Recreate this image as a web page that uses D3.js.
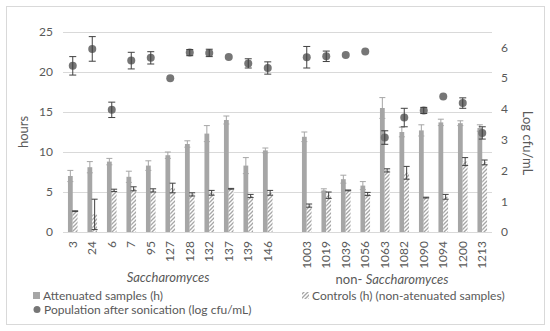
<!DOCTYPE html>
<html>
<head>
<meta charset="utf-8">
<script src="https://cdn.jsdelivr.net/npm/d3@7"></script>
<style>
body { margin: 0; background: #fff; }
text { font-family: Lato, "Open Sans", sans-serif; fill: #595959; }
</style>
</head>
<body>
<div id="chart"></div>
<script>
var svgWidth = 550
var svgHeight = 331

// strains, the empty slot separates the two groups
var saccharomyces = ["3", "24", "6", "7", "95", "127", "128", "132", "137", "139", "146"]
var nonSaccharomyces = ["1003", "1019", "1039", "1056", "1063", "1082", "1090", "1094", "1200", "1213"]
var strains = saccharomyces.concat(nonSaccharomyces)

var attenuated = [7.0, 8.1, 8.8, 6.9, 8.3, 9.6, 11.0, 12.3, 14.0, 8.3, 10.2, 11.9, 5.2, 6.6, 5.8, 15.5, 12.5, 12.7, 13.7, 13.6, 13.0]
var attenuatedErr = [0.7, 0.7, 0.4, 0.7, 0.6, 0.4, 0.4, 1.0, 0.5, 1.0, 0.3, 0.6, 0.2, 0.5, 0.5, 1.3, 0.6, 0.7, 0.4, 0.3, 0.4]
var controls = [2.6, 2.2, 5.2, 5.4, 5.2, 5.5, 4.7, 4.9, 5.4, 4.5, 4.9, 3.3, 4.6, 5.2, 4.75, 7.7, 7.4, 4.3, 4.4, 8.8, 8.7]
var controlsErr = [0.05, 1.9, 0.15, 0.25, 0.2, 0.6, 0.2, 0.3, 0.05, 0.2, 0.3, 0.2, 0.4, 0.05, 0.2, 0.2, 0.8, 0.05, 0.3, 0.5, 0.3]
var population = [5.4, 5.95, 3.97, 5.57, 5.66, 5.0, 5.83, 5.82, 5.69, 5.48, 5.33, 5.68, 5.71, 5.75, 5.87, 3.07, 3.72, 3.95, 4.4, 4.19, 3.22]
var populationErr = [0.3, 0.4, 0.25, 0.27, 0.2, 0, 0.1, 0.12, 0, 0.15, 0.2, 0.35, 0.17, 0, 0, 0.22, 0.3, 0.1, 0, 0.17, 0.2]

var hoursTicks = [0, 5, 10, 15, 20, 25]
var logTicks = [0, 1, 2, 3, 4, 5, 6]

var svg = d3.select("#chart").append("svg").attr("width", svgWidth).attr("height", svgHeight)

var defs = svg.append("defs")
var pattern = defs.append("pattern")
    .attr("id", "hatch")
    .attr("patternUnits", "userSpaceOnUse")
    .attr("width", 4).attr("height", 4)
pattern.append("rect").attr("width", 4).attr("height", 4).attr("fill", "#fff")
pattern.append("path").attr("d", "M-1,1 l2,-2 M0,4 l4,-4 M3,5 l2,-2")
    .attr("stroke", "#a6a6a6").attr("stroke-width", 1.3)

// outer border
svg.append("rect").attr("x", 6.5).attr("y", 6.5).attr("width", 538).attr("height", 318)
    .attr("fill", "none").attr("stroke", "#d9d9d9")

var plot = { left: 63, right: 492, top: 32, bottom: 232 }

var slots = saccharomyces.concat(["gap"], nonSaccharomyces)
var xScale = d3.scaleBand().domain(slots).range([plot.left, plot.right])
var yScale = d3.scaleLinear().domain([0, 25]).range([plot.bottom, plot.top])
var y2Scale = d3.scaleLinear().domain([0, 6.5]).range([plot.bottom, plot.top])

var rows = strains.map(function (s, i) {
    return {
        strain: s,
        att: attenuated[i], attErr: attenuatedErr[i],
        ctl: controls[i], ctlErr: controlsErr[i],
        pop: population[i], popErr: populationErr[i]
    }
})

// gridlines
svg.selectAll(".grid").data(hoursTicks).enter().append("line")
    .attr("x1", plot.left).attr("x2", plot.right)
    .attr("y1", d => Math.round(yScale(d)) + 0.5).attr("y2", d => Math.round(yScale(d)) + 0.5)
    .attr("stroke", "#d9d9d9").attr("stroke-width", 1)

var leftAxis = d3.axisLeft(yScale).tickValues(hoursTicks).tickSize(0).tickPadding(10)
var gl = svg.append("g").attr("transform", `translate(${plot.left}, 0)`).call(leftAxis)
gl.select(".domain").remove()
gl.selectAll("text").attr("font-size", "12px").style("font-family", "Lato, sans-serif").attr("fill", "#595959")

var rightAxis = d3.axisRight(y2Scale).tickValues(logTicks).tickFormat(d3.format("d")).tickSize(0).tickPadding(9)
var gr = svg.append("g").attr("transform", `translate(${plot.right}, 0)`).call(rightAxis)
gr.select(".domain").remove()
gr.selectAll("text").attr("font-size", "12px").style("font-family", "Lato, sans-serif").attr("fill", "#595959")

var bottomAxis = d3.axisBottom(xScale).tickSize(0).tickFormat(d => d == "gap" ? "" : d)
var gb = svg.append("g").attr("transform", `translate(0, ${plot.bottom})`).call(bottomAxis)
gb.select(".domain").remove()
gb.selectAll("text")
    .attr("transform", "rotate(-90)")
    .attr("x", -9).attr("y", 0).attr("dy", "0.35em")
    .attr("text-anchor", "end")
    .attr("font-size", "12px").style("font-family", "Lato, sans-serif").attr("fill", "#595959")

var barW = 4.8
var cx = d => xScale(d.strain) + xScale.bandwidth() / 2

// attenuated bars
svg.selectAll(".att").data(rows).enter().append("rect")
    .attr("x", d => cx(d) - barW)
    .attr("y", d => yScale(d.att))
    .attr("width", barW)
    .attr("height", d => plot.bottom - yScale(d.att))
    .attr("fill", "#a6a6a6")

// control bars
svg.selectAll(".ctl").data(rows).enter().append("rect")
    .attr("x", d => cx(d))
    .attr("y", d => yScale(d.ctl))
    .attr("width", barW)
    .attr("height", d => plot.bottom - yScale(d.ctl))
    .attr("fill", "url(#hatch)")

function errorBars(cls, xf, yf, ef, sc, color, capW) {
    var g = svg.selectAll("." + cls).data(rows.filter(d => ef(d) > 0)).enter().append("g")
    g.append("line")
        .attr("x1", d => xf(d)).attr("x2", d => xf(d))
        .attr("y1", d => sc(yf(d) - ef(d))).attr("y2", d => sc(yf(d) + ef(d)))
        .attr("stroke", color).attr("stroke-width", 1)
    g.append("line")
        .attr("x1", d => xf(d) - capW).attr("x2", d => xf(d) + capW)
        .attr("y1", d => sc(yf(d) + ef(d))).attr("y2", d => sc(yf(d) + ef(d)))
        .attr("stroke", color).attr("stroke-width", 1)
    g.append("line")
        .attr("x1", d => xf(d) - capW).attr("x2", d => xf(d) + capW)
        .attr("y1", d => sc(yf(d) - ef(d))).attr("y2", d => sc(yf(d) - ef(d)))
        .attr("stroke", color).attr("stroke-width", 1)
}

errorBars("attErr", d => cx(d) - barW / 2, d => d.att, d => d.attErr, yScale, "#a6a6a6", 3)
errorBars("ctlErr", d => cx(d) + barW / 2, d => d.ctl, d => d.ctlErr, yScale, "#404040", 3)

// population markers
svg.selectAll(".pop").data(rows).enter().append("circle")
    .attr("cx", d => cx(d))
    .attr("cy", d => y2Scale(d.pop))
    .attr("r", 4)
    .attr("fill", "#767676")
errorBars("popErr", d => cx(d), d => d.pop, d => d.popErr, y2Scale, "#404040", 3.5)

// axis titles
svg.append("text")
    .attr("transform", "translate(28, 132) rotate(-90)")
    .attr("text-anchor", "middle")
    .attr("font-size", "13px")
    .text("hours")

svg.append("text")
    .attr("transform", "translate(523, 143) rotate(90)")
    .attr("text-anchor", "middle")
    .attr("font-size", "13px")
    .text("Log cfu/mL")

// group labels
svg.append("text")
    .attr("x", 168).attr("y", 282)
    .attr("text-anchor", "middle")
    .attr("font-size", "13px").attr("font-style", "italic").attr("fill", "#000")
    .text("Saccharomyces")

var ns = svg.append("text")
    .attr("x", 392).attr("y", 284)
    .attr("text-anchor", "middle")
    .attr("font-size", "13px").attr("fill", "#000")
ns.append("tspan").text("non- ")
ns.append("tspan").attr("font-style", "italic").text("Saccharomyces")

// legend
var legend = svg.append("g")
legend.append("rect").attr("x", 33).attr("y", 292).attr("width", 7).attr("height", 7).attr("fill", "#a6a6a6")
legend.append("text").attr("x", 43).attr("y", 299.5).attr("font-size", "12px").text("Attenuated samples (h)")

legend.append("rect").attr("x", 302).attr("y", 292).attr("width", 7).attr("height", 7).attr("fill", "url(#hatch)")
legend.append("text").attr("x", 312).attr("y", 299.5).attr("font-size", "12px").text("Controls (h) (non-atenuated samples)")

legend.append("circle").attr("cx", 37).attr("cy", 309.5).attr("r", 3.5).attr("fill", "#767676")
legend.append("text").attr("x", 44).attr("y", 314).attr("font-size", "12px").text("Population after sonication (log cfu/mL)")
</script>
</body>
</html>
